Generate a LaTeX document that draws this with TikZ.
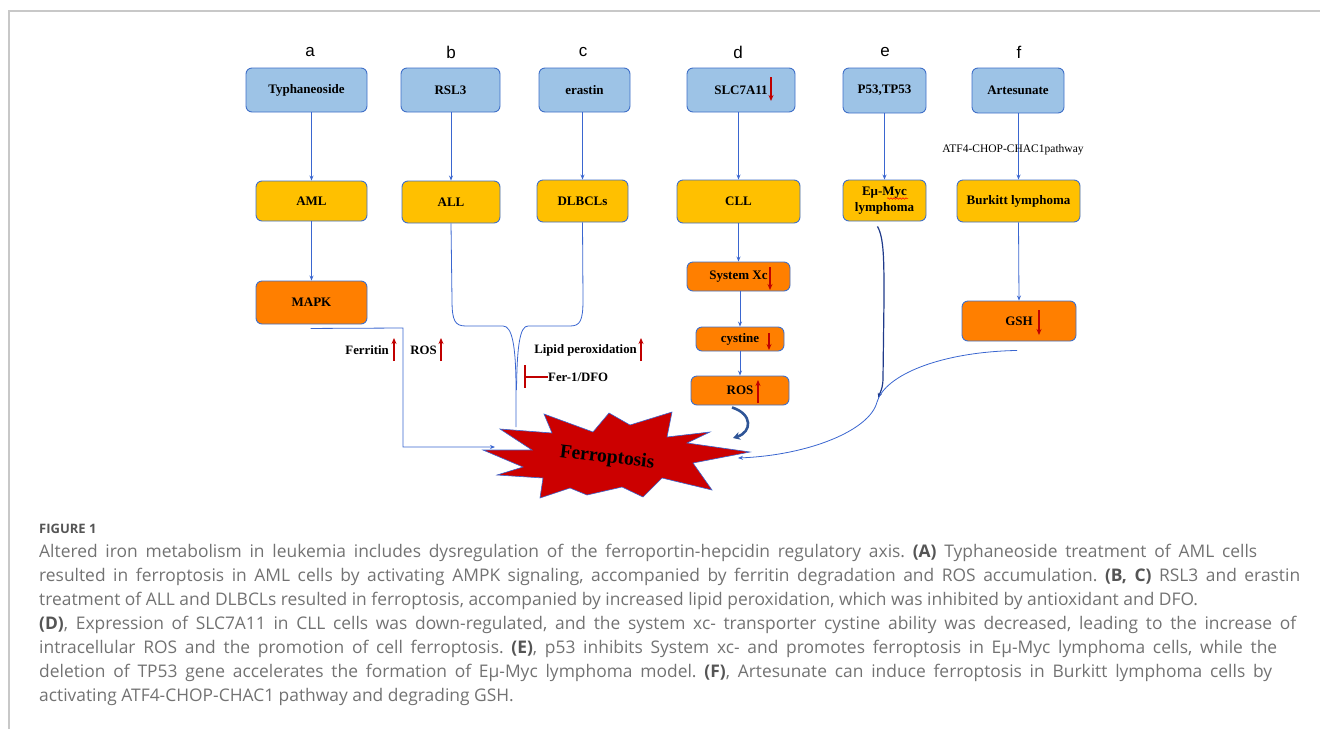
\documentclass[tikz,border=0pt]{standalone}
\usepackage{fontspec}
\setmainfont{Liberation Serif}
\newfontfamily\lblfont{Liberation Sans}
\newfontfamily\capfont{Open Sans}
\usetikzlibrary{arrows.meta,decorations.pathmorphing,calc}
\definecolor{bluefill}{HTML}{9DC3E6}
\definecolor{boxedge}{HTML}{3F6FC8}
\definecolor{yelfill}{HTML}{FFC000}
\definecolor{orgfill}{HTML}{FF7F00}
\definecolor{conncol}{HTML}{3A66D0}
\definecolor{navycol}{HTML}{1F3A8A}
\definecolor{curlcol}{HTML}{2F5597}
\definecolor{redarr}{HTML}{C00000}
\definecolor{burstfill}{HTML}{CC0000}
\definecolor{capgray}{HTML}{727272}
\definecolor{capdark}{HTML}{555555}
\definecolor{framegray}{HTML}{C8C8C8}
\tikzset{
  box/.style={draw=boxedge, line width=0.9pt, rounded corners=6pt, inner sep=0pt,
    font=\fontsize{13}{16}\selectfont\bfseries, align=center},
  bluebox/.style={box, fill=bluefill},
  yelbox/.style={box, fill=yelfill},
  orgbox/.style={box, fill=orgfill},
  connarrow/.style={draw=conncol, line width=0.8pt, -{Stealth[length=5pt,width=4pt]}},
  connline/.style={draw=conncol, line width=0.8pt},
  redup/.style={draw=redarr, line width=1.5pt, -{Stealth[length=6pt,width=5pt]}},
  panel/.style={font=\lblfont\fontsize{17}{19}\selectfont},
  lbl/.style={font=\fontsize{12.8}{15}\selectfont\bfseries, inner sep=0pt},
  capline/.style={anchor=base west, inner sep=0pt, font=\capfont\fontsize{17.4}{20}\selectfont\frenchspacing, text=capgray},
}
\newcommand{\bb}[1]{\textbf{\color{capdark}#1}}
\newcommand{\capln}[2]{\makebox[#1pt][s]{#2}}
\begin{document}
\begin{tikzpicture}[x=1pt,y=-1pt]
\useasboundingbox (0,0) rectangle (1320,729);
\draw[framegray, line width=1.5pt] (9,729) -- (9,11) -- (1320,11);

% panel letters
\node[panel] (la) at (310,52) {a};
\node[panel] (lb) at (451,52) {b};
\node[panel] (lc) at (583,52) {c};
\node[panel] (ld) at (738,52) {d};
\node[panel] (le) at (885,52) {e};
\node[panel] (lf) at (1019,52) {f};

% top row
\node[bluebox, minimum width=121pt, minimum height=44pt] (typ) at (306.5,90) {Typhaneoside};
\node[bluebox, minimum width=99pt, minimum height=44pt] (rsl) at (450.5,90) {RSL3};
\node[bluebox, minimum width=91pt, minimum height=44pt] (era) at (584.5,90) {erastin};
\node[bluebox, minimum width=108pt, minimum height=44pt] (slc) at (741,90) {SLC7A11};
\node[bluebox, minimum width=83pt, minimum height=45pt] (p53) at (884.5,90.5) {P53,TP53};
\node[bluebox, minimum width=92pt, minimum height=45pt] (art) at (1018,90.5) {Artesunate};

% second row
\node[yelbox, minimum width=111pt, minimum height=40pt] (aml) at (311.5,201) {AML};
\node[yelbox, minimum width=98pt, minimum height=42pt] (all) at (451,202) {ALL};
\node[yelbox, minimum width=91pt, minimum height=42pt] (dlb) at (582.5,201) {DLBCLs};
\node[yelbox, minimum width=123pt, minimum height=43pt] (cll) at (738.5,201.5) {CLL};
\node[yelbox, minimum width=83pt, minimum height=41pt] (emyc) at (884.5,200.5) {Eμ-Myc\\lymphoma};
\node[yelbox, minimum width=123pt, minimum height=42pt] (bur) at (1018.5,201) {Burkitt lymphoma};

% third row
\node[orgbox, minimum width=111pt, minimum height=43pt] (mapk) at (311.5,302.5) {MAPK};
\node[orgbox, minimum width=103pt, minimum height=29pt] (sxc) at (738.5,276.5) {System Xc};
\node[orgbox, minimum width=88pt, minimum height=24pt] (cys) at (740,339) {cystine};
\node[orgbox, minimum width=98pt, minimum height=29pt] (rosb) at (740,390.5) {ROS};
\node[orgbox, minimum width=114pt, minimum height=40pt] (gsh) at (1019,321) {GSH};

% spell-check squiggle under Myc
\draw[red, line width=0.5pt, decorate, decoration={snake, amplitude=0.8pt, segment length=3pt}] (887,198.5) -- (908,198.5);

% red arrows inside boxes
\draw[redup] (771,77) -- (771,101);
\draw[redup] (770,267) -- (770,290);
\draw[redup] (769,333) -- (769,350);
\draw[redup] (758,403) -- (758,380);
\draw[redup] (1039,310) -- (1039,335);

% vertical connectors
\draw[connarrow] (aml.north |- typ.south) -- (aml.north);
\draw[connarrow] (all.north |- rsl.south) -- (all.north);
\draw[connarrow] (dlb.north |- era.south) -- (dlb.north);
\draw[connarrow] (cll.north |- slc.south) -- (cll.north);
\draw[connarrow] (emyc.north |- p53.south) -- (emyc.north);
\draw[connarrow] (bur.north |- art.south) -- (bur.north);
\draw[connarrow] (aml.south) -- (mapk.north);
\draw[connarrow] (cll.south) -- (sxc.north);
\draw[connarrow] (sxc.south -| cys.north) -- (cys.north);
\draw[connarrow] (cys.south) -- (rosb.north);
\draw[connarrow] (bur.south) -- (gsh.north);

\node[font=\fontsize{11.5}{13}\selectfont, inner sep=0pt] (atf) at (1013,150) {ATF4-CHOP-CHAC1pathway};

% Ferroptosis burst
\draw[fill=burstfill, draw=conncol, line width=0.6pt, line join=miter]
  (500,429) -- (552,433) -- (544,414) -- (593,432) -- (609,413) -- (630,425) -- (672,412) -- (667,437)
  -- (710,432) -- (687,443) -- (750,452) -- (693,463) -- (712,490) -- (662,478) -- (643,497)
  -- (622,487) -- (587,495) -- (570,488) -- (540,498) -- (543,478) -- (497,475) -- (523,467)
  -- (483,450) -- (532,450) -- cycle;
\node[font=\fontsize{19.5}{22}\selectfont\bfseries, rotate=-6.5, inner sep=0pt] (fer) at (607,458) {Ferroptosis};
\coordinate (ferin) at (495,447);
\coordinate (mergeend) at (516,427);
\coordinate (gshend) at (738,458);

% MAPK to Ferroptosis
\draw[connarrow] ($(mapk.south)+(-1,4)$) -- (403,328) -- (403,447) -- (ferin);
\node[lbl, anchor=east] (ferritin) at (389,350) {Ferritin};
\draw[redup] (394,361) -- (394,338);
\node[lbl, anchor=east] (rosl) at (437,350) {ROS};
\draw[redup] (441,361) -- (441,338);

% ALL / DLBCLs merge
\draw[connline] (all.south) -- (452,300) .. controls (452,321) and (455,326) .. (466,326) -- (503,326)
  .. controls (512,326) and (516,345) .. (516,390) -- (mergeend);
\draw[connline] (dlb.south) -- (583,300) .. controls (583,321) and (580,326) .. (570,326) -- (528,326)
  .. controls (520,326) and (517,345) .. (516.5,390);
\node[lbl, anchor=east] (lipid) at (637,350) {Lipid peroxidation};
\draw[redup] (641,361) -- (641,338);
\draw[draw=redarr, line width=1.5pt] (525,365) -- (525,388);
\draw[draw=redarr, line width=1.3pt] (525,377) -- (548,377);
\node[lbl, anchor=west] (ferone) at (548,377) {Fer-1/DFO};

% ROS curl
\draw[draw=curlcol, line width=2.6pt, -{Stealth[length=7pt,width=8pt]}] ($(rosb.south)+(-8,2)$) .. controls (753,414) and (752,432) .. (733,438);

% E-mu-Myc line
\draw[draw=navycol, line width=1.2pt, -{Stealth[length=5pt,width=4pt]}] ($(emyc.south)+(-7,5)$) .. controls (884,238) and (884,260) .. (884,300) -- (883,378) .. controls (883,388) and (880,393) .. (878,398);

% GSH curve
\draw[connarrow] ($(gsh.south)+(-2,9)$) .. controls (940,352) and (885,375) .. (877,402) .. controls (870,430) and (810,455) .. (gshend);

% caption
\node[anchor=base west, inner sep=0pt, font=\capfont\fontsize{13}{15}\selectfont\bfseries, text=capdark] (figlab) at (39,533) {FIGURE 1};
\node[capline] (c1) at (39,557) {\capln{1218}{Altered iron metabolism in leukemia includes dysregulation of the ferroportin-hepcidin regulatory axis. \bb{(A)} Typhaneoside treatment of AML cells}};
\node[capline] (c2) at (39,581) {\capln{1261}{resulted in ferroptosis in AML cells by activating AMPK signaling, accompanied by ferritin degradation and ROS accumulation. \bb{(B, C)} RSL3 and erastin}};
\node[capline] (c3) at (39,605) {treatment of ALL and DLBCLs resulted in ferroptosis, accompanied by increased lipid peroxidation, which was inhibited by antioxidant and DFO.};
\node[capline] (c4) at (39,629) {\capln{1257}{\bb{(D)}, Expression of SLC7A11 in CLL cells was down-regulated, and the system xc- transporter cystine ability was decreased, leading to the increase of}};
\node[capline] (c5) at (39,653) {\capln{1238}{intracellular ROS and the promotion of cell ferroptosis. \bb{(E)}, p53 inhibits System xc- and promotes ferroptosis in Eμ-Myc lymphoma cells, while the}};
\node[capline] (c6) at (39,677) {\capln{1233}{deletion of TP53 gene accelerates the formation of Eμ-Myc lymphoma model. \bb{(F)}, Artesunate can induce ferroptosis in Burkitt lymphoma cells by}};
\node[capline] (c7) at (39,701) {activating ATF4-CHOP-CHAC1 pathway and degrading GSH.};
\end{tikzpicture}
\end{document}
